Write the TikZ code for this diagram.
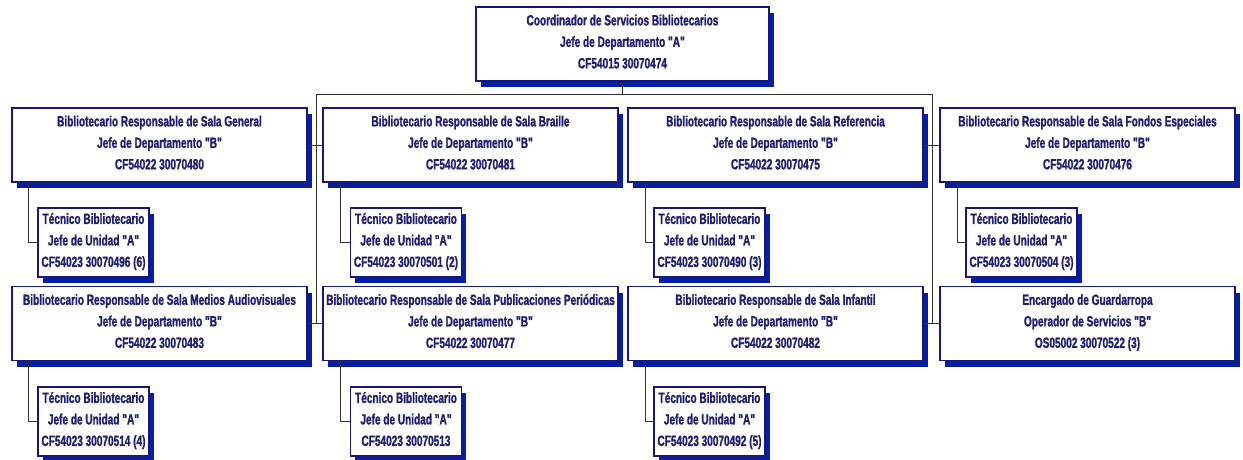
\documentclass[tikz,border=0pt]{standalone}
\usepackage{fontspec}
\setmainfont{Liberation Sans}[FakeStretch=0.68, FakeBold=1.2, Ligatures=TeXOff]
\usetikzlibrary{shadows}
\definecolor{boxline}{RGB}{22,22,125}
\definecolor{innerline}{RGB}{120,120,210}
\definecolor{shadowblue}{RGB}{8,30,160}
\definecolor{textcol}{RGB}{30,30,115}
\tikzset{
  orgbox/.style={draw=boxline, line width=1.8pt, fill=white, inner sep=0pt,
    align=center, text=textcol, text depth=5pt,
    font=\fontsize{14.8}{21.5}\selectfont\bfseries,
    drop shadow={shadow xshift=4.5pt, shadow yshift=-6pt, fill=shadowblue, opacity=1},
    append after command={
      [draw=innerline, line width=0.7pt]
      ([shift={(1.6pt,-1.6pt)}]\tikzlastnode.north west) rectangle
      ([shift={(-1.6pt,1.6pt)}]\tikzlastnode.south east)}},
  bigbox/.style={orgbox, minimum width=295pt, minimum height=74pt},
  smallbox/.style={orgbox, minimum width=111pt, minimum height=69pt},
  topbox/.style={orgbox, minimum width=293pt, minimum height=74pt},
  link/.style={draw=black!80, line width=0.8pt}
}
\begin{document}
\begin{tikzpicture}[x=1pt,y=-1pt]
\useasboundingbox (0,0) rectangle (1243,459);
% top
\node[topbox] (top) at (622.5,44) {Coordinador de Servicios Bibliotecarios\\Jefe de Departamento "A"\\CF54015 30070474};
% row 1
\node[bigbox] (gen) at (159.5,145) {Bibliotecario Responsable de Sala General\\Jefe de Departamento "B"\\CF54022 30070480};
\node[bigbox] (bra) at (470.5,145) {Bibliotecario Responsable de Sala Braille\\Jefe de Departamento "B"\\CF54022 30070481};
\node[bigbox] (ref) at (775.5,145) {Bibliotecario Responsable de Sala Referencia\\Jefe de Departamento "B"\\CF54022 30070475};
\node[bigbox] (fon) at (1087.5,145) {Bibliotecario Responsable de Sala Fondos Especiales\\Jefe de Departamento "B"\\CF54022 30070476};
% row 1 small
\node[smallbox] (t1) at (93.5,242.5) {Técnico Bibliotecario\\Jefe de Unidad "A"\\CF54023 30070496 (6)};
\node[smallbox] (t2) at (406,242.5) {Técnico Bibliotecario\\Jefe de Unidad "A"\\CF54023 30070501 (2)};
\node[smallbox] (t3) at (709.5,242.5) {Técnico Bibliotecario\\Jefe de Unidad "A"\\CF54023 30070490 (3)};
\node[smallbox] (t4) at (1021.5,242.5) {Técnico Bibliotecario\\Jefe de Unidad "A"\\CF54023 30070504 (3)};
% row 2
\node[bigbox] (aud) at (159.5,323.5) {Bibliotecario Responsable de Sala Medios Audiovisuales\\Jefe de Departamento "B"\\CF54022 30070483};
\node[bigbox] (pub) at (470.5,323.5) {Bibliotecario Responsable de Sala Publicaciones Periódicas\\Jefe de Departamento "B"\\CF54022 30070477};
\node[bigbox] (inf) at (775.5,323.5) {Bibliotecario Responsable de Sala Infantil\\Jefe de Departamento "B"\\CF54022 30070482};
\node[bigbox] (gua) at (1087.5,323.5) {Encargado de Guardarropa\\Operador de Servicios "B"\\OS05002 30070522 (3)};
% row 2 small
\node[smallbox] (u1) at (93.5,421.5) {Técnico Bibliotecario\\Jefe de Unidad "A"\\CF54023 30070514 (4)};
\node[smallbox] (u2) at (406,421.5) {Técnico Bibliotecario\\Jefe de Unidad "A"\\CF54023 30070513};
\node[smallbox] (u3) at (709.5,421.5) {Técnico Bibliotecario\\Jefe de Unidad "A"\\CF54023 30070492 (5)};
% bus coordinates
\coordinate (busL) at (316,94);
\coordinate (busR) at (932,94);
\draw[link] (top.south) -- (top.south |- busL);
\draw[link] (busL) -- (busR);
\draw[link] (busL) -- (busL |- aud.east);
\draw[link] (busR) -- (busR |- gua.west);
\draw[link] (gen.east) -- (bra.west);
\draw[link] (ref.east) -- (fon.west);
\draw[link] (aud.east) -- (pub.west);
\draw[link] (inf.east) -- (gua.west);
\draw[link] ([xshift=17.5pt]gen.south west) |- (t1.west);
\draw[link] ([xshift=18.5pt]bra.south west) |- (t2.west);
\draw[link] ([xshift=18pt]ref.south west) |- (t3.west);
\draw[link] ([xshift=18pt]fon.south west) |- (t4.west);
\draw[link] ([xshift=17.5pt]aud.south west) |- (u1.west);
\draw[link] ([xshift=18.5pt]pub.south west) |- (u2.west);
\draw[link] ([xshift=18pt]inf.south west) |- (u3.west);
\end{tikzpicture}
\end{document}
